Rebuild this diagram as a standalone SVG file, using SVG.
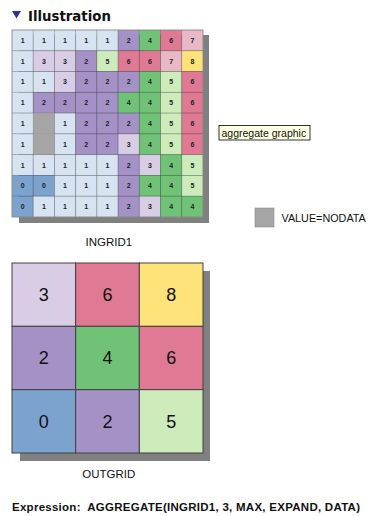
<svg xmlns="http://www.w3.org/2000/svg" width="371" height="516" viewBox="0 0 371 516">
<style>
text{font-family:"Liberation Sans",Arial,sans-serif;fill:#111}
.g rect{stroke:#000;stroke-opacity:.22;stroke-width:.8}
.g text{font-size:7px;font-weight:bold;text-anchor:middle;fill:#222}
.o rect{stroke:#404040;stroke-width:1}
.o text{font-size:18px;text-anchor:middle}
.c0{fill:#7ba3cd}.c1{fill:#d7e3f0}.c2{fill:#a491c5}.c3{fill:#d9cce5}.c4{fill:#70c276}
.c5{fill:#cdebbb}.c6{fill:#e07a94}.c7{fill:#e9b8c7}.c8{fill:#fde37a}.cN{fill:#a5a5a5}
.lbl{font-size:11.5px;text-anchor:middle}
.sh{fill:#808080}
</style>
<rect width="371" height="516" fill="#fff"/>
<g id="header">
<polygon points="12,11 21,11 16.5,18.5" fill="#2e3192"/>
<text x="28" y="20.5" style="font-family:'DejaVu Sans',Verdana,sans-serif;font-weight:bold;font-size:13.3px" fill="#000">Illustration</text>
</g>
<g id="ingrid1" class="g">
<rect class="sh" x="19" y="35" width="190" height="188" style="stroke:none"/>
<!-- row 1 -->
<g id="r1c1"><rect class="c1" x="12" y="30" width="21.22" height="20.78"/><text x="22.61" y="42.89">1</text></g>
<g id="r1c2"><rect class="c1" x="33.22" y="30" width="21.22" height="20.78"/><text x="43.83" y="42.89">1</text></g>
<g id="r1c3"><rect class="c1" x="54.44" y="30" width="21.22" height="20.78"/><text x="65.06" y="42.89">1</text></g>
<g id="r1c4"><rect class="c1" x="75.67" y="30" width="21.22" height="20.78"/><text x="86.28" y="42.89">1</text></g>
<g id="r1c5"><rect class="c1" x="96.89" y="30" width="21.22" height="20.78"/><text x="107.5" y="42.89">1</text></g>
<g id="r1c6"><rect class="c2" x="118.11" y="30" width="21.22" height="20.78"/><text x="128.72" y="42.89">2</text></g>
<g id="r1c7"><rect class="c4" x="139.33" y="30" width="21.22" height="20.78"/><text x="149.94" y="42.89">4</text></g>
<g id="r1c8"><rect class="c6" x="160.56" y="30" width="21.22" height="20.78"/><text x="171.17" y="42.89">6</text></g>
<g id="r1c9"><rect class="c7" x="181.78" y="30" width="21.22" height="20.78"/><text x="192.39" y="42.89">7</text></g>
<!-- row 2 -->
<g id="r2c1"><rect class="c1" x="12" y="50.78" width="21.22" height="20.78"/><text x="22.61" y="63.67">1</text></g>
<g id="r2c2"><rect class="c3" x="33.22" y="50.78" width="21.22" height="20.78"/><text x="43.83" y="63.67">3</text></g>
<g id="r2c3"><rect class="c3" x="54.44" y="50.78" width="21.22" height="20.78"/><text x="65.06" y="63.67">3</text></g>
<g id="r2c4"><rect class="c2" x="75.67" y="50.78" width="21.22" height="20.78"/><text x="86.28" y="63.67">2</text></g>
<g id="r2c5"><rect class="c5" x="96.89" y="50.78" width="21.22" height="20.78"/><text x="107.5" y="63.67">5</text></g>
<g id="r2c6"><rect class="c6" x="118.11" y="50.78" width="21.22" height="20.78"/><text x="128.72" y="63.67">6</text></g>
<g id="r2c7"><rect class="c6" x="139.33" y="50.78" width="21.22" height="20.78"/><text x="149.94" y="63.67">6</text></g>
<g id="r2c8"><rect class="c7" x="160.56" y="50.78" width="21.22" height="20.78"/><text x="171.17" y="63.67">7</text></g>
<g id="r2c9"><rect class="c8" x="181.78" y="50.78" width="21.22" height="20.78"/><text x="192.39" y="63.67">8</text></g>
<!-- row 3 -->
<g id="r3c1"><rect class="c1" x="12" y="71.56" width="21.22" height="20.78"/><text x="22.61" y="84.44">1</text></g>
<g id="r3c2"><rect class="c1" x="33.22" y="71.56" width="21.22" height="20.78"/><text x="43.83" y="84.44">1</text></g>
<g id="r3c3"><rect class="c3" x="54.44" y="71.56" width="21.22" height="20.78"/><text x="65.06" y="84.44">3</text></g>
<g id="r3c4"><rect class="c2" x="75.67" y="71.56" width="21.22" height="20.78"/><text x="86.28" y="84.44">2</text></g>
<g id="r3c5"><rect class="c2" x="96.89" y="71.56" width="21.22" height="20.78"/><text x="107.5" y="84.44">2</text></g>
<g id="r3c6"><rect class="c2" x="118.11" y="71.56" width="21.22" height="20.78"/><text x="128.72" y="84.44">2</text></g>
<g id="r3c7"><rect class="c4" x="139.33" y="71.56" width="21.22" height="20.78"/><text x="149.94" y="84.44">4</text></g>
<g id="r3c8"><rect class="c5" x="160.56" y="71.56" width="21.22" height="20.78"/><text x="171.17" y="84.44">5</text></g>
<g id="r3c9"><rect class="c6" x="181.78" y="71.56" width="21.22" height="20.78"/><text x="192.39" y="84.44">6</text></g>
<!-- row 4 -->
<g id="r4c1"><rect class="c1" x="12" y="92.33" width="21.22" height="20.78"/><text x="22.61" y="105.22">1</text></g>
<g id="r4c2"><rect class="c2" x="33.22" y="92.33" width="21.22" height="20.78"/><text x="43.83" y="105.22">2</text></g>
<g id="r4c3"><rect class="c2" x="54.44" y="92.33" width="21.22" height="20.78"/><text x="65.06" y="105.22">2</text></g>
<g id="r4c4"><rect class="c2" x="75.67" y="92.33" width="21.22" height="20.78"/><text x="86.28" y="105.22">2</text></g>
<g id="r4c5"><rect class="c2" x="96.89" y="92.33" width="21.22" height="20.78"/><text x="107.5" y="105.22">2</text></g>
<g id="r4c6"><rect class="c4" x="118.11" y="92.33" width="21.22" height="20.78"/><text x="128.72" y="105.22">4</text></g>
<g id="r4c7"><rect class="c4" x="139.33" y="92.33" width="21.22" height="20.78"/><text x="149.94" y="105.22">4</text></g>
<g id="r4c8"><rect class="c5" x="160.56" y="92.33" width="21.22" height="20.78"/><text x="171.17" y="105.22">5</text></g>
<g id="r4c9"><rect class="c6" x="181.78" y="92.33" width="21.22" height="20.78"/><text x="192.39" y="105.22">6</text></g>
<!-- row 5 -->
<g id="r5c1"><rect class="c1" x="12" y="113.11" width="21.22" height="20.78"/><text x="22.61" y="126">1</text></g>
<g id="r5c2"><rect class="cN" x="33.22" y="113.11" width="21.22" height="20.78" style="stroke:none"/></g>
<g id="r5c3"><rect class="c1" x="54.44" y="113.11" width="21.22" height="20.78"/><text x="65.06" y="126">1</text></g>
<g id="r5c4"><rect class="c2" x="75.67" y="113.11" width="21.22" height="20.78"/><text x="86.28" y="126">2</text></g>
<g id="r5c5"><rect class="c2" x="96.89" y="113.11" width="21.22" height="20.78"/><text x="107.5" y="126">2</text></g>
<g id="r5c6"><rect class="c2" x="118.11" y="113.11" width="21.22" height="20.78"/><text x="128.72" y="126">2</text></g>
<g id="r5c7"><rect class="c4" x="139.33" y="113.11" width="21.22" height="20.78"/><text x="149.94" y="126">4</text></g>
<g id="r5c8"><rect class="c5" x="160.56" y="113.11" width="21.22" height="20.78"/><text x="171.17" y="126">5</text></g>
<g id="r5c9"><rect class="c6" x="181.78" y="113.11" width="21.22" height="20.78"/><text x="192.39" y="126">6</text></g>
<!-- row 6 -->
<g id="r6c1"><rect class="c1" x="12" y="133.89" width="21.22" height="20.78"/><text x="22.61" y="146.78">1</text></g>
<g id="r6c2"><rect class="cN" x="33.22" y="133.89" width="21.22" height="20.78" style="stroke:none"/></g>
<g id="r6c3"><rect class="c1" x="54.44" y="133.89" width="21.22" height="20.78"/><text x="65.06" y="146.78">1</text></g>
<g id="r6c4"><rect class="c2" x="75.67" y="133.89" width="21.22" height="20.78"/><text x="86.28" y="146.78">2</text></g>
<g id="r6c5"><rect class="c2" x="96.89" y="133.89" width="21.22" height="20.78"/><text x="107.5" y="146.78">2</text></g>
<g id="r6c6"><rect class="c3" x="118.11" y="133.89" width="21.22" height="20.78"/><text x="128.72" y="146.78">3</text></g>
<g id="r6c7"><rect class="c4" x="139.33" y="133.89" width="21.22" height="20.78"/><text x="149.94" y="146.78">4</text></g>
<g id="r6c8"><rect class="c5" x="160.56" y="133.89" width="21.22" height="20.78"/><text x="171.17" y="146.78">5</text></g>
<g id="r6c9"><rect class="c6" x="181.78" y="133.89" width="21.22" height="20.78"/><text x="192.39" y="146.78">6</text></g>
<!-- row 7 -->
<g id="r7c1"><rect class="c1" x="12" y="154.67" width="21.22" height="20.78"/><text x="22.61" y="167.56">1</text></g>
<g id="r7c2"><rect class="c1" x="33.22" y="154.67" width="21.22" height="20.78"/><text x="43.83" y="167.56">1</text></g>
<g id="r7c3"><rect class="c1" x="54.44" y="154.67" width="21.22" height="20.78"/><text x="65.06" y="167.56">1</text></g>
<g id="r7c4"><rect class="c1" x="75.67" y="154.67" width="21.22" height="20.78"/><text x="86.28" y="167.56">1</text></g>
<g id="r7c5"><rect class="c1" x="96.89" y="154.67" width="21.22" height="20.78"/><text x="107.5" y="167.56">1</text></g>
<g id="r7c6"><rect class="c2" x="118.11" y="154.67" width="21.22" height="20.78"/><text x="128.72" y="167.56">2</text></g>
<g id="r7c7"><rect class="c3" x="139.33" y="154.67" width="21.22" height="20.78"/><text x="149.94" y="167.56">3</text></g>
<g id="r7c8"><rect class="c4" x="160.56" y="154.67" width="21.22" height="20.78"/><text x="171.17" y="167.56">4</text></g>
<g id="r7c9"><rect class="c5" x="181.78" y="154.67" width="21.22" height="20.78"/><text x="192.39" y="167.56">5</text></g>
<!-- row 8 -->
<g id="r8c1"><rect class="c0" x="12" y="175.44" width="21.22" height="20.78"/><text x="22.61" y="188.33">0</text></g>
<g id="r8c2"><rect class="c0" x="33.22" y="175.44" width="21.22" height="20.78"/><text x="43.83" y="188.33">0</text></g>
<g id="r8c3"><rect class="c1" x="54.44" y="175.44" width="21.22" height="20.78"/><text x="65.06" y="188.33">1</text></g>
<g id="r8c4"><rect class="c1" x="75.67" y="175.44" width="21.22" height="20.78"/><text x="86.28" y="188.33">1</text></g>
<g id="r8c5"><rect class="c1" x="96.89" y="175.44" width="21.22" height="20.78"/><text x="107.5" y="188.33">1</text></g>
<g id="r8c6"><rect class="c2" x="118.11" y="175.44" width="21.22" height="20.78"/><text x="128.72" y="188.33">2</text></g>
<g id="r8c7"><rect class="c4" x="139.33" y="175.44" width="21.22" height="20.78"/><text x="149.94" y="188.33">4</text></g>
<g id="r8c8"><rect class="c4" x="160.56" y="175.44" width="21.22" height="20.78"/><text x="171.17" y="188.33">4</text></g>
<g id="r8c9"><rect class="c5" x="181.78" y="175.44" width="21.22" height="20.78"/><text x="192.39" y="188.33">5</text></g>
<!-- row 9 -->
<g id="r9c1"><rect class="c0" x="12" y="196.22" width="21.22" height="20.78"/><text x="22.61" y="209.11">0</text></g>
<g id="r9c2"><rect class="c1" x="33.22" y="196.22" width="21.22" height="20.78"/><text x="43.83" y="209.11">1</text></g>
<g id="r9c3"><rect class="c1" x="54.44" y="196.22" width="21.22" height="20.78"/><text x="65.06" y="209.11">1</text></g>
<g id="r9c4"><rect class="c1" x="75.67" y="196.22" width="21.22" height="20.78"/><text x="86.28" y="209.11">1</text></g>
<g id="r9c5"><rect class="c1" x="96.89" y="196.22" width="21.22" height="20.78"/><text x="107.5" y="209.11">1</text></g>
<g id="r9c6"><rect class="c2" x="118.11" y="196.22" width="21.22" height="20.78"/><text x="128.72" y="209.11">2</text></g>
<g id="r9c7"><rect class="c3" x="139.33" y="196.22" width="21.22" height="20.78"/><text x="149.94" y="209.11">3</text></g>
<g id="r9c8"><rect class="c4" x="160.56" y="196.22" width="21.22" height="20.78"/><text x="171.17" y="209.11">4</text></g>
<g id="r9c9"><rect class="c4" x="181.78" y="196.22" width="21.22" height="20.78"/><text x="192.39" y="209.11">4</text></g>
<rect x="12" y="30" width="191" height="187" fill="none" style="stroke:#9a9a9a;stroke-opacity:1;stroke-width:.8"/>
</g>
<g id="ingrid1-label"><text class="lbl" x="108.8" y="245.5">INGRID1</text></g>
<g id="tooltip">
<rect x="219" y="125.5" width="91" height="14.5" fill="#ffffe1" stroke="#000" stroke-width=".8"/>
<text x="221.5" y="136.5" style="font-size:10.5px" fill="#000">aggregate graphic</text>
</g>
<g id="legend">
<rect x="255" y="208" width="19" height="19" fill="#a5a5a5" stroke="#8a8a8a" stroke-width=".6"/>
<text x="281.5" y="221.5" style="font-size:10.8px" fill="#000">VALUE=NODATA</text>
</g>
<g id="outgrid" class="o">
<rect class="sh" x="20" y="271" width="190" height="190" style="stroke:none"/>
<g id="o11"><rect class="c3" x="12" y="263" width="63.67" height="63.33"/><text x="43.83" y="301.1">3</text></g>
<g id="o12"><rect class="c6" x="75.67" y="263" width="63.67" height="63.33"/><text x="107.5" y="301.1">6</text></g>
<g id="o13"><rect class="c8" x="139.33" y="263" width="63.67" height="63.33"/><text x="171.17" y="301.1">8</text></g>
<g id="o21"><rect class="c2" x="12" y="326.33" width="63.67" height="63.33"/><text x="43.83" y="364.4">2</text></g>
<g id="o22"><rect class="c4" x="75.67" y="326.33" width="63.67" height="63.33"/><text x="107.5" y="364.4">4</text></g>
<g id="o23"><rect class="c6" x="139.33" y="326.33" width="63.67" height="63.33"/><text x="171.17" y="364.4">6</text></g>
<g id="o31"><rect class="c0" x="12" y="389.67" width="63.67" height="63.33"/><text x="43.83" y="427.7">0</text></g>
<g id="o32"><rect class="c2" x="75.67" y="389.67" width="63.67" height="63.33"/><text x="107.5" y="427.7">2</text></g>
<g id="o33"><rect class="c5" x="139.33" y="389.67" width="63.67" height="63.33"/><text x="171.17" y="427.7">5</text></g>
</g>
<g id="outgrid-label"><text class="lbl" x="108.8" y="478">OUTGRID</text></g>
<g id="expression">
<text x="12" y="511" style="font-size:11.5px;font-weight:bold;white-space:pre" textLength="348" lengthAdjust="spacing" fill="#000">Expression:  AGGREGATE(INGRID1, 3, MAX, EXPAND, DATA)</text>
</g>
</svg>
